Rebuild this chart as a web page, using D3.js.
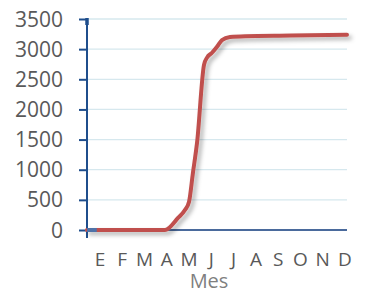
<!DOCTYPE html>
<html lang="en">
<head>
<meta charset="utf-8">
<title>Mes</title>
<script src="https://cdn.jsdelivr.net/npm/d3@7"></script>
<style>
  body { margin: 0; background: #fff; }
  text { font-family: "Open Sans", sans-serif; }
</style>
</head>
<body>
<script>
// month labels and y ticks
var months = ["E", "F", "M", "A", "M", "J", "J", "A", "S", "O", "N", "D"];
var yTicks = [0, 500, 1000, 1500, 2000, 2500, 3000, 3500];

// red series: position in months (0 = start of Jan) and value
var redT = [0, 3.6, 4.2, 4.52, 4.71, 4.89, 5.08, 5.4, 5.54, 5.77, 6.0, 6.23, 6.6, 7.3, 9.4, 12];
var redV = [0, 0, 200, 330, 470, 950, 1450, 2740, 2860, 2940, 3040, 3150, 3200, 3215, 3225, 3240];
// blue series, only visible at the very start
var blueT = [0, 0.45];
var blueV = [0, 0];

var W = 366, H = 293;
var plotL = 87, plotR = 347, plotT = 19, plotB = 230;

var svg = d3.select("body").append("svg")
    .attr("width", W).attr("height", H);

var defs = svg.append("defs");
var f = defs.append("filter").attr("id", "shadow")
    .attr("x", "-10%").attr("y", "-10%").attr("width", "130%").attr("height", "130%");
f.append("feDropShadow")
    .attr("dx", 3).attr("dy", 3).attr("stdDeviation", 2)
    .attr("flood-color", "#000").attr("flood-opacity", 0.3);

var x = d3.scaleLinear().domain([0, 12]).range([plotL, plotR]);
var y = d3.scaleLinear().domain([0, 3500]).range([plotB, plotT]);
var xLab = d3.scalePoint().domain(d3.range(12)).range([100, 345]);

// gridlines
svg.append("g").selectAll("line")
    .data(yTicks.filter(function(d) { return d > 0; }))
    .enter().append("line")
    .attr("x1", plotL + 1).attr("x2", plotR)
    .attr("y1", function(d) { return y(d); })
    .attr("y2", function(d) { return y(d); })
    .attr("stroke", "#d6e8ee").attr("stroke-width", 1.3);

// x axis line
svg.append("line")
    .attr("x1", plotL).attr("x2", plotR)
    .attr("y1", y(0)).attr("y2", y(0))
    .attr("stroke", "#4a6a9c").attr("stroke-width", 2);

// y axis
var yAxis = svg.append("g")
    .attr("transform", "translate(" + plotL + ",0)")
    .call(d3.axisLeft(y).tickValues(yTicks).tickFormat(d3.format("d"))
        .tickSize(8).tickPadding(16).tickSizeOuter(0));
yAxis.select(".domain").remove();
yAxis.append("line")
    .attr("x1", 0).attr("x2", 0)
    .attr("y1", plotT - 1).attr("y2", plotB + 8)
    .attr("stroke", "#1f4e8c").attr("stroke-width", 2);
yAxis.append("line")
    .attr("x1", 0).attr("x2", 0)
    .attr("y1", plotT - 1).attr("y2", plotT + 6)
    .attr("stroke", "#1f4e8c").attr("stroke-width", 3.5);
yAxis.selectAll(".tick line").attr("stroke", "#1f4e8c").attr("stroke-width", 2);
yAxis.selectAll(".tick text")
    .attr("fill", "#595959").attr("font-size", 21).attr("dy", "0.34em");

// month labels
svg.append("g").selectAll("text")
    .data(months)
    .enter().append("text")
    .attr("x", function(d, i) { return xLab(i); })
    .attr("y", 266)
    .attr("text-anchor", "middle")
    .attr("fill", "#595959")
    .attr("font-size", 19)
    .text(function(d) { return d; });

svg.append("text")
    .attr("x", 209).attr("y", 288)
    .attr("text-anchor", "middle")
    .attr("fill", "#7f7f7f")
    .attr("font-size", 20)
    .text("Mes");

// lines
var line = d3.line()
    .x(function(d) { return x(d[0]); })
    .y(function(d) { return y(d[1]); })
    .curve(d3.curveMonotoneX);

svg.append("path")
    .datum(d3.zip(redT, redV))
    .attr("d", line)
    .attr("fill", "none")
    .attr("stroke", "#c0504d").attr("stroke-width", 4)
    .attr("stroke-linecap", "round").attr("stroke-linejoin", "round")
    .attr("filter", "url(#shadow)");

svg.append("path")
    .datum(d3.zip(blueT, blueV))
    .attr("d", line)
    .attr("fill", "none")
    .attr("stroke", "#4f72a8").attr("stroke-width", 4);
</script>
</body>
</html>
